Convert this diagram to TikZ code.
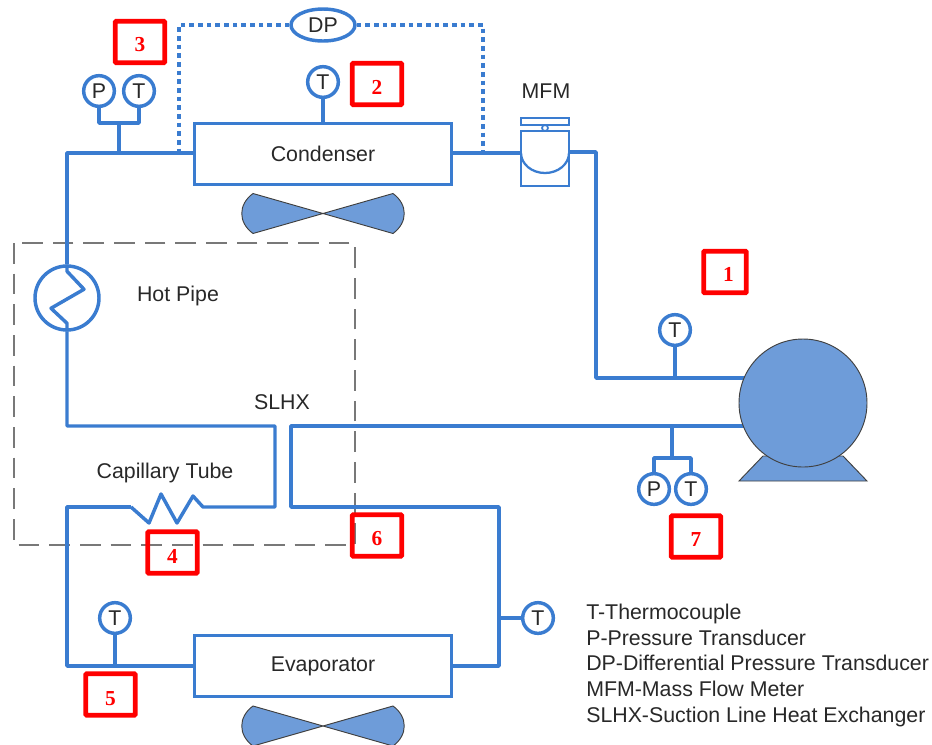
\documentclass[tikz,border=0pt]{standalone}
\usepackage{fontspec}
\setmainfont{Liberation Sans}
\newfontfamily\tagfont{Liberation Serif}
\usetikzlibrary{shapes.geometric,calc}
\definecolor{pipeblue}{RGB}{58,124,208}
\definecolor{fillblue}{RGB}{110,156,217}
\definecolor{tagred}{RGB}{255,0,0}
\definecolor{textgray}{RGB}{40,40,40}
\definecolor{boxgray}{RGB}{120,120,120}
\tikzset{
  pipe/.style={pipeblue, line width=2.6pt, line join=round},
  thinpipe/.style={pipeblue, line width=1.7pt, line join=round},
  dppipe/.style={pipeblue, line width=2.4pt, dash pattern=on 3.5pt off 3pt},
  gauge/.style={circle, draw=pipeblue, line width=2.6pt, fill=white, minimum size=23pt,
    inner sep=0pt, text=textgray, font=\fontsize{16}{18}\selectfont},
  unitbox/.style={rectangle, draw=pipeblue, line width=2.6pt, fill=white, minimum width=193pt,
    minimum height=46pt, text=textgray, font=\fontsize{16}{18}\selectfont},
  tagbox/.style={rectangle, draw=tagred, line width=3.6pt, rounded corners=0.6pt, minimum width=37pt,
    minimum height=31pt, inner sep=0pt, text=tagred, font=\tagfont\bfseries\fontsize{16}{18}\selectfont},
  lbl/.style={text=textgray, inner sep=0pt, font=\fontsize{16}{18}\selectfont},
  legendline/.style={lbl, anchor=base west},
  fan/.pic={
    \draw[fill=fillblue, draw=black!75, line width=0.7pt]
      (0,0) -- (-70,-20) .. controls (-85,-9) and (-85,9) .. (-70,20) -- (0,0)
      -- (70,20) .. controls (85,9) and (85,-9) .. (70,-20) -- cycle;
  },
}
\newcommand{\tagnum}[2]{\raisebox{#1}[0pt][0pt]{#2}}
\begin{document}
\begin{tikzpicture}[x=0.75pt, y=-0.75pt]
    \clip (0,0) rectangle (932,744);
    % --- dashed SLHX frame ---
    \draw[boxgray, line width=1.4pt, dash pattern=on 15.5pt off 7.5pt]
      (14,243) rectangle (355,545);
    % --- condenser and its sensors ---
    \node[unitbox] (cond) at (323,154) {Condenser};
    \node[gauge] (condT) at (323,82) {T};
    \node[gauge] (inP) at (99,91) {P};
    \node[gauge] (inT) at (139,91) {T};
    \node[ellipse, draw=pipeblue, line width=2.6pt, minimum width=48pt, minimum height=24pt, inner sep=0pt,
      text=textgray, font=\fontsize{16}{18}\selectfont] (dp) at (323,25) {DP};
    \draw[pipe] (condT) -- (cond);
    \coordinate (inJoin) at (119,153);
    \coordinate (inBar) at (119,123);
    \draw[pipe] (inP) |- (inBar) -| (inT);
    \draw[pipe] (inBar) -- (inJoin);
    % --- differential pressure lines ---
    \coordinate (dpLeft) at (179,152);
    \coordinate (dpRight) at (483,153);
    \draw[dppipe] (dp.west) -| (dpLeft);
    \draw[dppipe] (dp.east) -| (dpRight);
    % --- mass flow meter ---
    \node[lbl] (mfmlbl) at (546,91) {MFM};
    \node[rectangle, draw=pipeblue, line width=1.7pt, minimum width=36pt, minimum height=41pt, inner sep=0pt] (mfm) at (545,158.5) {};
    \node[rectangle, draw=pipeblue, line width=1.7pt, minimum width=36.5pt, minimum height=5pt, inner sep=0pt] (plate) at (545,121.5) {};
    \node[circle, draw=pipeblue, line width=1.3pt, minimum size=4.5pt, inner sep=0pt] (pivot) at (545,128) {};
    \coordinate (mfmIn) at (521,153);
    \coordinate (mfmOut) at (569,152);
    \draw[thinpipe] (mfmIn) arc[start angle=180, end angle=0, x radius=24, y radius=20];
    \draw[pipe] (cond.east |- mfmIn) -- (mfmIn);
    % --- suction and discharge lines at the compressor ---
    \coordinate (disc) at (596,378);
    \coordinate (suct) at (291,426);
    \coordinate (dischT) at (675,378);
    \coordinate (suctJoin) at (672,426);
    \coordinate (suctBar) at (672,458);
    \draw[pipe] (mfmOut) -| (disc) -- (745,378);
    \node[gauge] (compT) at (675,330) {T};
    \draw[pipe] (compT) -- (dischT);
    \node[gauge] (outP) at (654,489) {P};
    \node[gauge] (outT) at (691,489) {T};
    \draw[pipe] (suctJoin) -- (suctBar);
    \draw[pipe] (outP) |- (suctBar) -| (outT);
    % --- compressor ---
    \draw[fill=fillblue, draw=black!75, line width=0.7pt] (763,456) -- (739,481) -- (867,481) -- (843,456) -- cycle;
    % --- hot pipe ---
    \node[circle, draw=pipeblue, line width=2.6pt, minimum size=48pt, inner sep=0pt] (hx) at (67,298) {};
    \draw[pipe] (cond.west |- inJoin) -| (hx.north);
    \draw[pipe] (hx.north) -- ++(0,7) -- ++(17,18) -- ++(-33,19) -- ++(16,15) -- (hx.south);
    % --- capillary tube loop ---
    \coordinate (slhxA) at (67,426);
    \coordinate (slhxB) at (275,426);
    \coordinate (capIn) at (203,507);
    \coordinate (capOut) at (131,507);
    \draw[pipe] (hx.south) -- (slhxA) -- (slhxB) |- (capIn) -- (193,496) -- (177,523) -- (161,494) -- (149,523) -- (capOut);
    % --- evaporator ---
    \node[unitbox] (evap) at (323,666) {Evaporator};
    \draw[pipe] (capOut) -| (67,666) -- (evap.west);
    \node[gauge] (evapInT) at (115,618) {T};
    \draw[pipe] (evapInT) -- (115,666);
    \coordinate (evapOut) at (499,666);
    \coordinate (slhxC) at (499,507);
    \draw[pipe] (evap.east) -- (evapOut) -- (slhxC) -| (suct) -- (745,426);
    \node[gauge] (evapOutT) at (538,618) {T};
    \draw[pipe] (evapOutT) -- (499,618);
    \node[circle, fill=fillblue, draw=black!75, line width=0.7pt, minimum size=96pt, inner sep=0pt] (comp) at (803,403) {};
    % --- fans ---
    \pic at (323,213.5) {fan};
    \pic at (323,726) {fan};
    % --- labels ---
    \node[lbl] (hot) at (178,296) {Hot Pipe};
    \node[lbl] (slhx) at (282,402) {SLHX};
    \node[lbl] (cap) at (165,473) {Capillary Tube};
    \node[legendline] (leg1) at (586,619.5) {T-Thermocouple};
    \node[legendline] (leg2) at (586,645) {P-Pressure Transducer};
    \node[legendline] (leg3) at (586,670.5) {DP-Differential Pressure Transducer};
    \node[legendline] (leg4) at (586,696) {MFM-Mass Flow Meter};
    \node[legendline] (leg5) at (586,722) {SLHX-Suction Line Heat Exchanger};
    % --- numbered tags ---
    \node[tagbox, minimum width=32pt] (tag1) at (725,272) {\hspace{5pt}\tagnum{-6.8pt}{1}};
    \node[tagbox] (tag2) at (377,84) {\tagnum{-7.5pt}{2}};
    \node[tagbox] (tag3) at (140,42) {\tagnum{-6.8pt}{3}};
    \node[tagbox] (tag4) at (172.5,552.5) {\tagnum{-8pt}{4}};
    \node[tagbox] (tag5) at (110.5,694.5) {\tagnum{-8pt}{5}};
    \node[tagbox] (tag6) at (377,535.5) {\tagnum{-7.2pt}{6}};
    \node[tagbox] (tag7) at (696,536.5) {\tagnum{-7.2pt}{7}};
\end{tikzpicture}
\end{document}
